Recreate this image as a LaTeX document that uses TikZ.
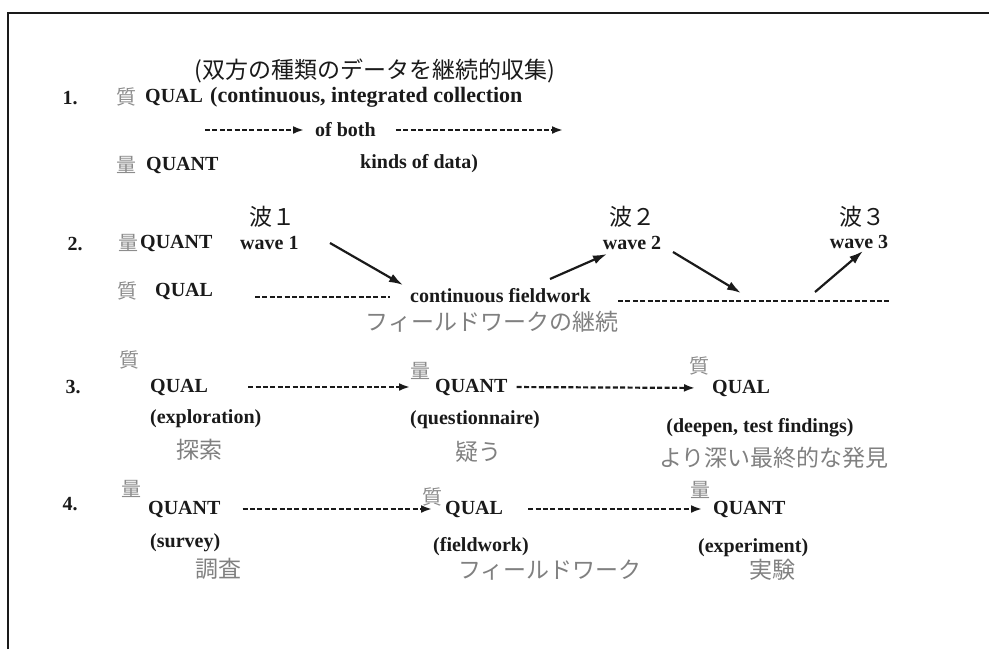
\documentclass[tikz,border=0pt]{standalone}
\usepackage{fontspec}
\setmainfont{Liberation Serif}
\newfontfamily\jpfont{Noto Sans CJK JP}
\usetikzlibrary{arrows.meta}
\definecolor{ink}{HTML}{1A1A1A}
\definecolor{jgray}{HTML}{808080}
\definecolor{mgray}{HTML}{8C8C8C}
\begin{document}
\begin{tikzpicture}[x=1pt,y=-1pt,
  en/.style={inner sep=0pt, anchor=west, text=ink, font=\fontsize{20}{20}\selectfont\bfseries},
  enc/.style={en, anchor=center},
  jl/.style={inner sep=0pt, text=jgray, font=\jpfont\fontsize{23}{23}\selectfont},
  jk/.style={inner sep=0pt, text=ink, font=\jpfont\fontsize{23}{23}\selectfont},
  mk/.style={inner sep=0pt, text=mgray, font=\jpfont\fontsize{20}{20}\selectfont},
  dline/.style={draw=ink, line width=2.2pt, dash pattern=on 5pt off 2.4pt, -{Latex[length=11pt,width=8pt]}},
  dplain/.style={draw=ink, line width=2.2pt, dash pattern=on 5pt off 2.4pt},
  sline/.style={draw=ink, line width=2.2pt, -{Latex[length=14pt,width=9pt]}},
  frame/.style={draw=ink, line width=2.2pt}
]
\useasboundingbox (0,0) rectangle (989,649);
\draw[frame] (8,649) -- (8,13) -- (989,13);

% ---- row 1
\node[jk] (t1) at (375,71) {(双方の種類のデータを継続的収集)};
\node[enc] (n1) at (70,98) {1.};
\node[mk] (m1a) at (126,97) {質};
\node[en] (q1a) at (145,97) {QUAL};
\node[en, font=\fontsize{22}{22}\selectfont\bfseries] (c1a) at (210,97) {(continuous, integrated collection};
\node[en] (ofb) at (315,130) {of both};
\coordinate (s1) at (205,130);
\coordinate (e1) at (563,130);
\draw[dline, shorten >=11pt] (s1) -- (ofb.west);
\draw[dline, shorten <=20pt] (ofb.east) -- (e1);
\node[mk] (m1b) at (126,165) {量};
\node[en] (q1b) at (146,165) {QUANT};
\node[en] (k1) at (360,164) {kinds of data)};

% ---- row 2
\node[enc] (n2) at (75,244) {2.};
\node[mk] (m2a) at (128,243) {量};
\node[en] (q2a) at (140,243) {QUANT};
\node[en] (w1) at (240,243) {wave 1};
\node[jk] (h1) at (272,217) {波１};
\node[mk] (m2b) at (127,291) {質};
\node[en] (q2b) at (155,291) {QUAL};
\node[en] (cf) at (410,296) {continuous fieldwork};
\node[jl] (cfj) at (492,322) {フィールドワークの継続};
\node[enc] (w2) at (632,243) {wave 2};
\node[jk] (h2) at (632,217) {波２};
\node[enc] (w3) at (859,242) {wave 3};
\node[jk] (h3) at (862,217) {波３};
\coordinate (d2s) at (255,297);
\coordinate (d2e) at (390,297);
\coordinate (d3s) at (618,301);
\coordinate (d3e) at (890,301);
\draw[dplain] (d2s) -- (d2e);
\draw[dplain] (d3s) -- (d3e);
\coordinate (a1s) at (330,243);
\coordinate (a1e) at (403,285);
\coordinate (a2s) at (550,279);
\coordinate (a2e) at (607,254);
\coordinate (a3s) at (673,252);
\coordinate (a3e) at (741,293);
\coordinate (a4s) at (815,292);
\coordinate (a4e) at (863,251);
\draw[sline] (a1s) -- (a1e);
\draw[sline] (a2s) -- (a2e);
\draw[sline] (a3s) -- (a3e);
\draw[sline] (a4s) -- (a4e);

% ---- row 3
\node[enc] (n3) at (73,387) {3.};
\node[mk] (m3a) at (129,360) {質};
\node[en] (q3a) at (150,387) {QUAL};
\node[en] (p3a) at (150,419) {(exploration)};
\node[jl] (j3a) at (199,450) {探索};
\node[mk] (m3b) at (420,371) {量};
\node[en] (q3b) at (435,387) {QUANT};
\node[en] (p3b) at (410,420) {(questionnaire)};
\node[jl] (j3b) at (478,452) {疑う};
\node[mk] (m3c) at (699,366) {質};
\node[en] (q3c) at (712,388) {QUAL};
\node[enc] (p3c) at (760,428) {(deepen, test findings)};
\node[jl] (j3c) at (774,458) {より深い最終的な発見};
\draw[dline, shorten <=40pt, shorten >=25pt] (q3a.east) -- (q3b.west);
\draw[dline, shorten <=9pt, shorten >=17pt] (q3b.east) -- (q3c.west);

% ---- row 4
\node[enc] (n4) at (70,504) {4.};
\node[mk] (m4a) at (131,489) {量};
\node[en] (q4a) at (148,509) {QUANT};
\node[en] (p4a) at (150,543) {(survey)};
\node[jl] (j4a) at (218,569) {調査};
\node[mk] (m4b) at (432,497) {質};
\node[en] (q4b) at (445,509) {QUAL};
\node[en] (p4b) at (433,547) {(fieldwork)};
\node[jl] (j4b) at (550,570) {フィールドワーク};
\node[mk] (m4c) at (700,490) {量};
\node[en] (q4c) at (713,509) {QUANT};
\node[en] (p4c) at (698,548) {(experiment)};
\node[jl] (j4c) at (772,570) {実験};
\draw[dline, shorten <=22pt, shorten >=13pt] (q4a.east) -- (q4b.west);
\draw[dline, shorten <=25pt, shorten >=11pt] (q4b.east) -- (q4c.west);
\end{tikzpicture}
\end{document}
